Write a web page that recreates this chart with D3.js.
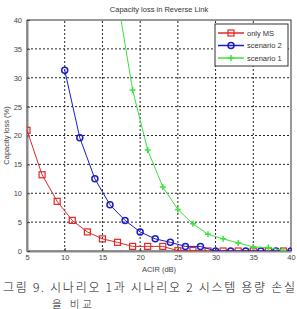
<!DOCTYPE html>
<html>
<head>
<meta charset="utf-8">
<script src="https://cdn.jsdelivr.net/npm/d3@7"></script>
<style>
  body { margin: 0; background: #fff; }
  svg { display: block; }
</style>
</head>
<body>
<svg id="viz"></svg>
<script>
var width = 297;
var height = 309;

// data
var onlyMsX = [5, 7, 9, 11, 13, 15, 17, 19, 21, 23, 25, 27, 29, 31, 33, 35, 37, 39];
var onlyMsY = [20.9, 13.2, 8.6, 5.3, 3.3, 2.1, 1.5, 0.8, 0.8, 0.8, 0.05, 0.1, 0, 0, 0, 0, 0, 0];

var scen2X = [10, 12, 14, 16, 18, 20, 22, 24, 26, 28, 30, 32, 34, 36, 38, 40];
var scen2Y = [31.3, 19.6, 12.5, 8.0, 5.3, 3.3, 2.1, 1.5, 0.8, 0.8, 0, 0, 0, 0, 0, 0];

var scen1X = [17, 19, 21, 23, 25, 27, 29, 31, 33, 35, 37, 39];
var scen1Y = [43.7, 27.9, 17.5, 11.1, 7.2, 4.7, 2.9, 2.1, 1.4, 0.7, 0.6, 0.1];

var xTicks = [5, 10, 15, 20, 25, 30, 35, 40];
var yTicks = [0, 5, 10, 15, 20, 25, 30, 35, 40];

var seriesNames = ["only MS", "scenario 2", "scenario 1"];
var seriesColors = ["#e02828", "#1c1cc8", "#3ee03e"];

var margin = {left: 27, right: 6, top: 20, bottom: 58};

var svg = d3.select("#viz").attr("width", width).attr("height", height);

var x = d3.scaleLinear().domain([5, 40]).range([margin.left, width - margin.right]);
var y = d3.scaleLinear().domain([0, 40]).range([height - margin.bottom, margin.top]);

var font = "Liberation Sans, Arial, sans-serif";

// clip for the plot area
svg.append("clipPath").attr("id", "plotclip")
  .append("rect")
  .attr("x", x(5)).attr("y", y(40))
  .attr("width", x(40) - x(5)).attr("height", y(0) - y(40));

// grid
var grid = svg.append("g").attr("class", "grid");
grid.selectAll("line.gx")
  .data(xTicks.slice(1, -1))
  .enter().append("line")
  .attr("x1", d => x(d)).attr("x2", d => x(d))
  .attr("y1", y(0)).attr("y2", y(40))
  .attr("stroke", "#222").attr("stroke-width", 1)
  .attr("stroke-dasharray", "2,2");
grid.selectAll("line.gy")
  .data(yTicks.slice(1, -1))
  .enter().append("line")
  .attr("x1", x(5)).attr("x2", x(40))
  .attr("y1", d => y(d)).attr("y2", d => y(d))
  .attr("stroke", "#222").attr("stroke-width", 1)
  .attr("stroke-dasharray", "2,2");

// frame
svg.append("rect")
  .attr("x", x(5)).attr("y", y(40))
  .attr("width", x(40) - x(5)).attr("height", y(0) - y(40))
  .attr("fill", "none").attr("stroke", "#333").attr("stroke-width", 1);

// axes
var xAxis = svg.append("g")
  .attr("transform", "translate(0," + y(0) + ")")
  .call(d3.axisBottom(x).tickValues(xTicks).tickSizeInner(-3).tickSizeOuter(0).tickPadding(4));
var yAxis = svg.append("g")
  .attr("transform", "translate(" + x(5) + ",0)")
  .call(d3.axisLeft(y).tickValues(yTicks).tickSizeInner(-3).tickSizeOuter(0).tickPadding(5));

[xAxis, yAxis].forEach(function(a) {
  a.select(".domain").attr("stroke", "#888").attr("stroke-width", 2);
  a.selectAll(".tick line").attr("stroke", "#444");
  a.selectAll("text").attr("font-family", font).attr("font-size", 7.5).attr("fill", "#444");
});

// series
var series = [
  {name: seriesNames[0], xs: onlyMsX, ys: onlyMsY, color: seriesColors[0], marker: "square"},
  {name: seriesNames[1], xs: scen2X, ys: scen2Y, color: seriesColors[1], marker: "circle"},
  {name: seriesNames[2], xs: scen1X, ys: scen1Y, color: seriesColors[2], marker: "plus"}
];

var line = d3.line().x(d => x(d[0])).y(d => y(d[1]));

var plot = svg.append("g").attr("clip-path", "url(#plotclip)");

function drawMarker(g, type, cx, cy, color) {
  if (type === "square") {
    g.append("rect").attr("x", cx - 3).attr("y", cy - 3).attr("width", 6).attr("height", 6)
      .attr("fill", "none").attr("stroke", color).attr("stroke-width", 1.2);
  } else if (type === "circle") {
    g.append("circle").attr("cx", cx).attr("cy", cy).attr("r", 3)
      .attr("fill", "none").attr("stroke", color).attr("stroke-width", 1.5);
  } else {
    g.append("path").attr("d", "M" + (cx - 3) + "," + cy + "H" + (cx + 3) + "M" + cx + "," + (cy - 3) + "V" + (cy + 3))
      .attr("stroke", color).attr("stroke-width", 1.5);
  }
}

series.forEach(function(s) {
  var pts = s.xs.map((v, i) => [v, s.ys[i]]);
  plot.append("path").datum(pts)
    .attr("d", line).attr("fill", "none")
    .attr("stroke", s.color).attr("stroke-width", 1);
  var mg = plot.append("g");
  pts.forEach(function(p) {
    if (p[1] <= 40) drawMarker(mg, s.marker, x(p[0]), y(p[1]), s.color);
  });
});

// legend
var lg = svg.append("g").attr("transform", "translate(215,24)");
lg.append("rect").attr("width", 73).attr("height", 42)
  .attr("fill", "#fff").attr("stroke", "#333").attr("stroke-width", 1);
series.forEach(function(s, i) {
  var ly = 9 + i * 12.5;
  lg.append("line").attr("x1", 3).attr("x2", 29).attr("y1", ly).attr("y2", ly)
    .attr("stroke", s.color).attr("stroke-width", 1.5);
  drawMarker(lg, s.marker, 16, ly, s.color);
  lg.append("text").attr("x", 32).attr("y", ly + 2.8)
    .attr("font-family", font).attr("font-size", 7.5).attr("fill", "#333")
    .text(s.name);
});

// title and labels
svg.append("text").attr("x", (x(5) + x(40)) / 2).attr("y", 12)
  .attr("text-anchor", "middle").attr("font-family", font).attr("font-size", 7.5).attr("fill", "#333")
  .text("Capacity loss in Reverse Link");

svg.append("text").attr("x", (x(5) + x(40)) / 2).attr("y", 272)
  .attr("text-anchor", "middle").attr("font-family", font).attr("font-size", 7.5).attr("fill", "#444")
  .text("ACIR (dB)");

svg.append("text")
  .attr("transform", "translate(9," + ((y(0) + y(40)) / 2) + ") rotate(-90)")
  .attr("text-anchor", "middle").attr("font-family", font).attr("font-size", 7.5).attr("fill", "#444")
  .text("Capacity loss (%)");

// caption
var cjk = "'Noto Sans CJK KR', sans-serif";
svg.append("text").attr("x", 3).attr("y", 292)
  .attr("font-family", cjk).attr("font-size", 12).attr("font-weight", 300).attr("fill", "#111")
  .attr("textLength", 292).attr("lengthAdjust", "spacing")
  .text("그림 9. 시나리오 1과 시나리오 2 시스템 용량 손실");
svg.append("text").attr("x", 52).attr("y", 307.5)
  .attr("font-family", cjk).attr("font-size", 10.5).attr("font-weight", 300).attr("fill", "#111")
  .attr("textLength", 40).attr("lengthAdjust", "spacing")
  .text("을 비교");
</script>
</body>
</html>
